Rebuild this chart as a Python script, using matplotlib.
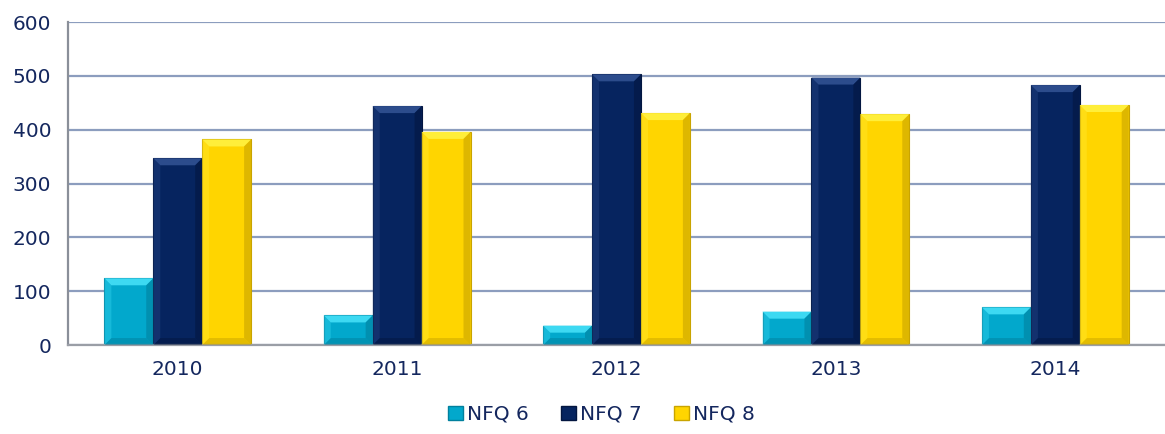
import matplotlib.pyplot as plt
import numpy as np
from matplotlib.patches import Polygon, Patch

years = ["2010", "2011", "2012", "2013", "2014"]
nfq6 = [124, 55, 36, 62, 70]
nfq7 = [347, 444, 503, 497, 483]
nfq8 = [382, 396, 431, 429, 446]

series = [("NFQ 6", nfq6, "#02A8CC", "#3DD9F2", "#01809E"),
          ("NFQ 7", nfq7, "#06245F", "#2C4C8C", "#031640"),
          ("NFQ 8", nfq8, "#FFD500", "#FFEE3A", "#C9A400")]

text_col = "#14275E"
plt.rcParams['font.family'] = ['DejaVu Sans']

fig = plt.figure(figsize=(11.65, 4.34), dpi=100)
ax = fig.add_axes([0.0584, 0.205, 0.9416, 0.744])

x = np.arange(len(years))
w = 0.223
bx = 0.032   # bevel width in category units
by = 13      # bevel height in data units


def bevel(ax, bar, light, dark):
    x0 = bar.get_x()
    x1 = x0 + bar.get_width()
    h = bar.get_height()
    b = min(by, h / 2)
    top = [(x0, h), (x1, h), (x1 - bx, h - b), (x0 + bx, h - b)]
    bot = [(x0, 0), (x1, 0), (x1 - bx, b), (x0 + bx, b)]
    left = [(x0, 0), (x0, h), (x0 + bx, h - b), (x0 + bx, b)]
    right = [(x1, 0), (x1, h), (x1 - bx, h - b), (x1 - bx, b)]
    ax.add_patch(Polygon(top, closed=True, fc=light, ec="none", zorder=3))
    ax.add_patch(Polygon(bot, closed=True, fc=dark, ec="none", alpha=0.5, zorder=3))
    ax.add_patch(Polygon(left, closed=True, fc=light, ec="none", alpha=0.35, zorder=3))
    ax.add_patch(Polygon(right, closed=True, fc=dark, ec="none", alpha=0.6, zorder=3))


handles = []
for i, (name, vals, face, light, dark) in enumerate(series):
    bars = ax.bar(x + (i - 1) * w, vals, w, color=face, edgecolor=dark,
                  linewidth=0.8, zorder=2)
    for b in bars:
        bevel(ax, b, light, dark)
    handles.append(Patch(facecolor=face, edgecolor=dark, label=name))

ax.set_xlim(-0.5, len(years) - 0.5)
ax.set_ylim(0, 600)
ax.set_yticks(range(0, 601, 100))
ax.set_xticks(x)
ax.set_xticklabels(years)
ax.tick_params(axis="both", length=0, labelsize=14.5, colors=text_col)
ax.tick_params(axis="y", pad=12)
ax.tick_params(axis="x", pad=11)

ax.yaxis.grid(True, color="#8C9DBE", linewidth=1.6, zorder=0)
ax.set_axisbelow(True)
for s in ["top", "right"]:
    ax.spines[s].set_visible(False)
ax.spines["left"].set_color("#8A8F99")
ax.spines["left"].set_linewidth(1.6)
ax.spines["bottom"].set_color("#9A9EA6")
ax.spines["bottom"].set_linewidth(1.6)

fig.legend(handles=handles, loc="center", bbox_to_anchor=(0.516, 0.045),
           ncol=3, frameon=False, fontsize=14.5, labelcolor=text_col,
           handlelength=0.75, handleheight=0.75, handletextpad=0.2,
           columnspacing=1.6)

fig.savefig("out.png", dpi=100)
